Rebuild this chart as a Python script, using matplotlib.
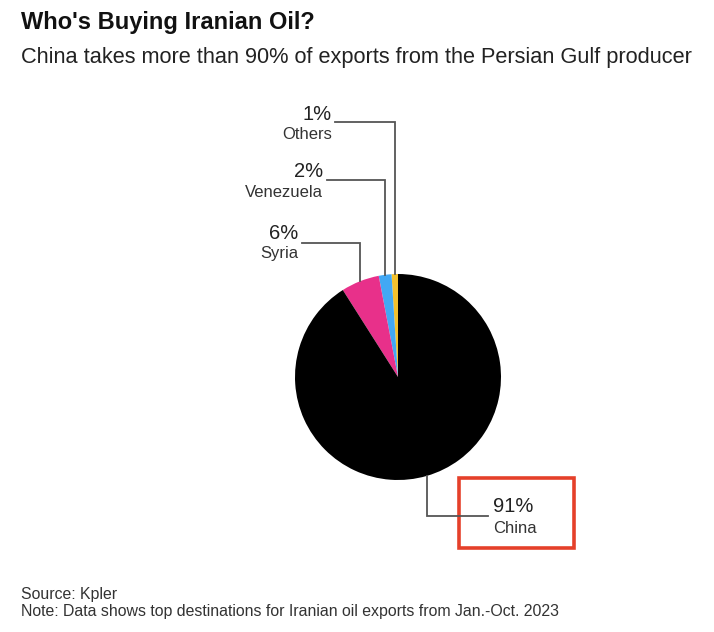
import numpy as np
import matplotlib.pyplot as plt
from matplotlib.patches import Rectangle

plt.rcParams['font.family'] = ['Liberation Sans', 'DejaVu Sans']

# data
labels = ['Others', 'Venezuela', 'Syria', 'China']
shares = [1, 2, 6, 91]
colors = ['#f2c12e', '#42a8f4', '#e8308a', '#000000']

W, H = 714, 632
CX, CY, R = 398, 377, 103  # pie centre / radius in pixels


def Y(py):
    return H - py


fig = plt.figure(figsize=(W / 100, H / 100), dpi=100)
ax = fig.add_axes([0, 0, 1, 1])

wedges, _ = ax.pie(shares, colors=colors, startangle=90, counterclock=True,
                   center=(CX, Y(CY)), radius=R,
                   wedgeprops=dict(linewidth=0))
ax.set_xlim(0, W)
ax.set_ylim(0, H)
ax.set_aspect('equal')
ax.axis('off')

line_kw = dict(color='#555555', lw=1.3, solid_joinstyle='miter')

# top labels: elbow y, line end x, text right x, pct baseline, name baseline
top_layout = {
    'Others': (122, 335, 332, 120, 139),
    'Venezuela': (180, 327, 323, 177, 197),
    'Syria': (243, 302, 298, 239, 258),
}

for w, lab, val in zip(wedges, labels, shares):
    mid = np.deg2rad((w.theta1 + w.theta2) / 2)
    ax_x = CX + R * np.cos(mid)
    ax_y = Y(CY) + R * np.sin(mid)
    if lab in top_layout:
        ey, ex, tx, py, ly = top_layout[lab]
        ax.plot([ax_x, ax_x, ex], [ax_y, Y(ey), Y(ey)], **line_kw)
        ax.text(tx, Y(py), f'{val}%', ha='right', va='baseline',
                fontsize=14.5, color='#222222')
        ax.text(tx, Y(ly), lab, ha='right', va='baseline',
                fontsize=12, color='#333333')
    else:
        ax.plot([ax_x, ax_x, 488], [ax_y, Y(516), Y(516)], **line_kw)
        ax.text(493, Y(512), f'{val}%', ha='left', va='baseline',
                fontsize=14.5, color='#222222')
        ax.text(493, Y(533), lab, ha='left', va='baseline',
                fontsize=12, color='#333333')

# highlight box around China
ax.add_patch(Rectangle((459, Y(548)), 115, 70, fill=False,
                       edgecolor='#e5402a', lw=2.6))

fig.text(21 / W, 1 - 29 / H, "Who's Buying Iranian Oil?", fontsize=17,
         fontweight='bold', color='#111111', va='baseline')
fig.text(21 / W, 1 - 63 / H,
         'China takes more than 90% of exports from the Persian Gulf producer',
         fontsize=15.7, color='#222222', va='baseline')
fig.text(21 / W, 1 - 599 / H, 'Source: Kpler', fontsize=11.4,
         color='#333333', va='baseline')
fig.text(21 / W, 1 - 616 / H,
         'Note: Data shows top destinations for Iranian oil exports from Jan.-Oct. 2023',
         fontsize=11.4, color='#333333', va='baseline')

fig.savefig('out.png', dpi=100, facecolor='white')
